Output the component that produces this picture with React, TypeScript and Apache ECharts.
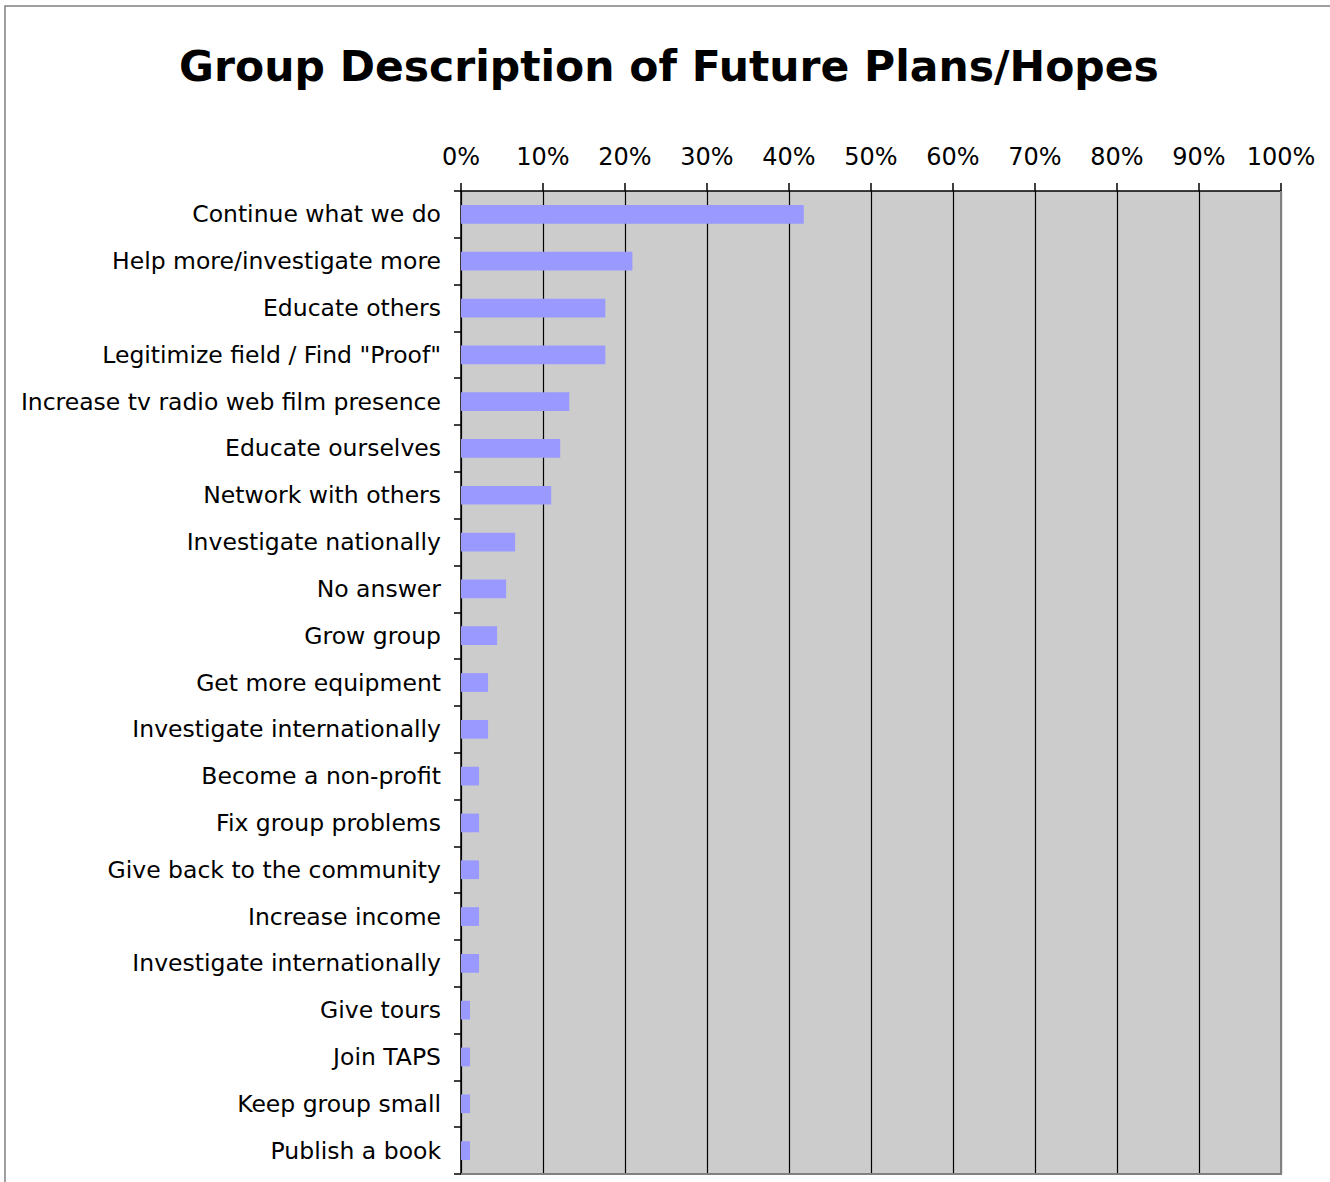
import React, { useEffect, useRef } from "react";
import * as echarts from "echarts";

const categories = [
  "Continue what we do",
  "Help more/investigate more",
  "Educate others",
  "Legitimize field / Find \"Proof\"",
  "Increase tv radio web film presence",
  "Educate ourselves",
  "Network with others",
  "Investigate nationally",
  "No answer",
  "Grow group",
  "Get more equipment",
  "Investigate internationally",
  "Become a non-profit",
  "Fix group problems",
  "Give back to the community",
  "Increase income",
  "Investigate internationally",
  "Give tours",
  "Join TAPS",
  "Keep group small",
  "Publish a book",
];

const values = [
  41.8, 20.9, 17.6, 17.6, 13.2, 12.1, 11.0, 6.6, 5.5, 4.4, 3.3, 3.3, 2.2, 2.2,
  2.2, 2.2, 2.2, 1.1, 1.1, 1.1, 1.1,
];

const tickValues = [0, 10, 20, 30, 40, 50, 60, 70, 80, 90, 100];

const FONT = "DejaVu Sans, Verdana, sans-serif";

export default function App() {
  const ref = useRef<HTMLDivElement>(null);
  useEffect(() => {
    document.body.style.margin = "0";
    const chart = echarts.init(ref.current!, null, { renderer: "svg" });
    const L = 461, T = 191, W = 820, H = 983;
    chart.setOption({
      animation: false,
      backgroundColor: "#ffffff",
      title: {
        text: "Group Description of Future Plans/Hopes",
        left: 664,
        top: 40,
        textAlign: "center",
        textStyle: { fontFamily: FONT, fontSize: 42.5, fontWeight: "bold", color: "#000" },
      },
      grid: {
        left: L,
        top: T,
        width: W,
        height: H,
        show: true,
        backgroundColor: "#cccccc",
        borderWidth: 0,
      },
      xAxis: {
        type: "value",
        position: "top",
        min: 0,
        max: 100,
        interval: 10,
        axisLine: { show: true, lineStyle: { color: "#000", width: 1.5 } },
        axisTick: { show: true, length: 8, lineStyle: { color: "#000", width: 1.5 } },
        axisLabel: {
          formatter: (v: number) => (tickValues.includes(v) ? v + "%" : ""),
          fontFamily: FONT,
          fontSize: 24,
          color: "#000",
          margin: 22,
        },
        splitLine: { show: true, lineStyle: { color: "#000", width: 1.2 } },
      },
      yAxis: {
        type: "category",
        inverse: true,
        data: categories,
        axisLine: { show: true, lineStyle: { color: "#000", width: 1.5 } },
        axisTick: { show: true, length: 7, lineStyle: { color: "#000", width: 1.5 } },
        axisLabel: { fontFamily: FONT, fontSize: 23.5, color: "#000", margin: 20 },
      },
      series: [
        {
          type: "bar",
          data: values,
          barWidth: "40%",
          itemStyle: { color: "#9999ff" },
        },
      ],
      graphic: [
        {
          type: "rect",
          shape: { x: 5, y: 6, width: 1400, height: 1300 },
          style: { fill: "none", stroke: "#808080", lineWidth: 1.5 },
          z: 100,
        },
        {
          type: "polyline",
          shape: { points: [[L + W, T], [L + W, T + H], [L, T + H]] },
          style: { fill: "none", stroke: "#808080", lineWidth: 2 },
          z: 100,
        },
      ],
    });
    return () => chart.dispose();
  }, []);
  return (
    <div
      ref={ref}
      style={{ position: "absolute", left: 0, top: 0, width: 1330, height: 1182 }}
    />
  );
}
